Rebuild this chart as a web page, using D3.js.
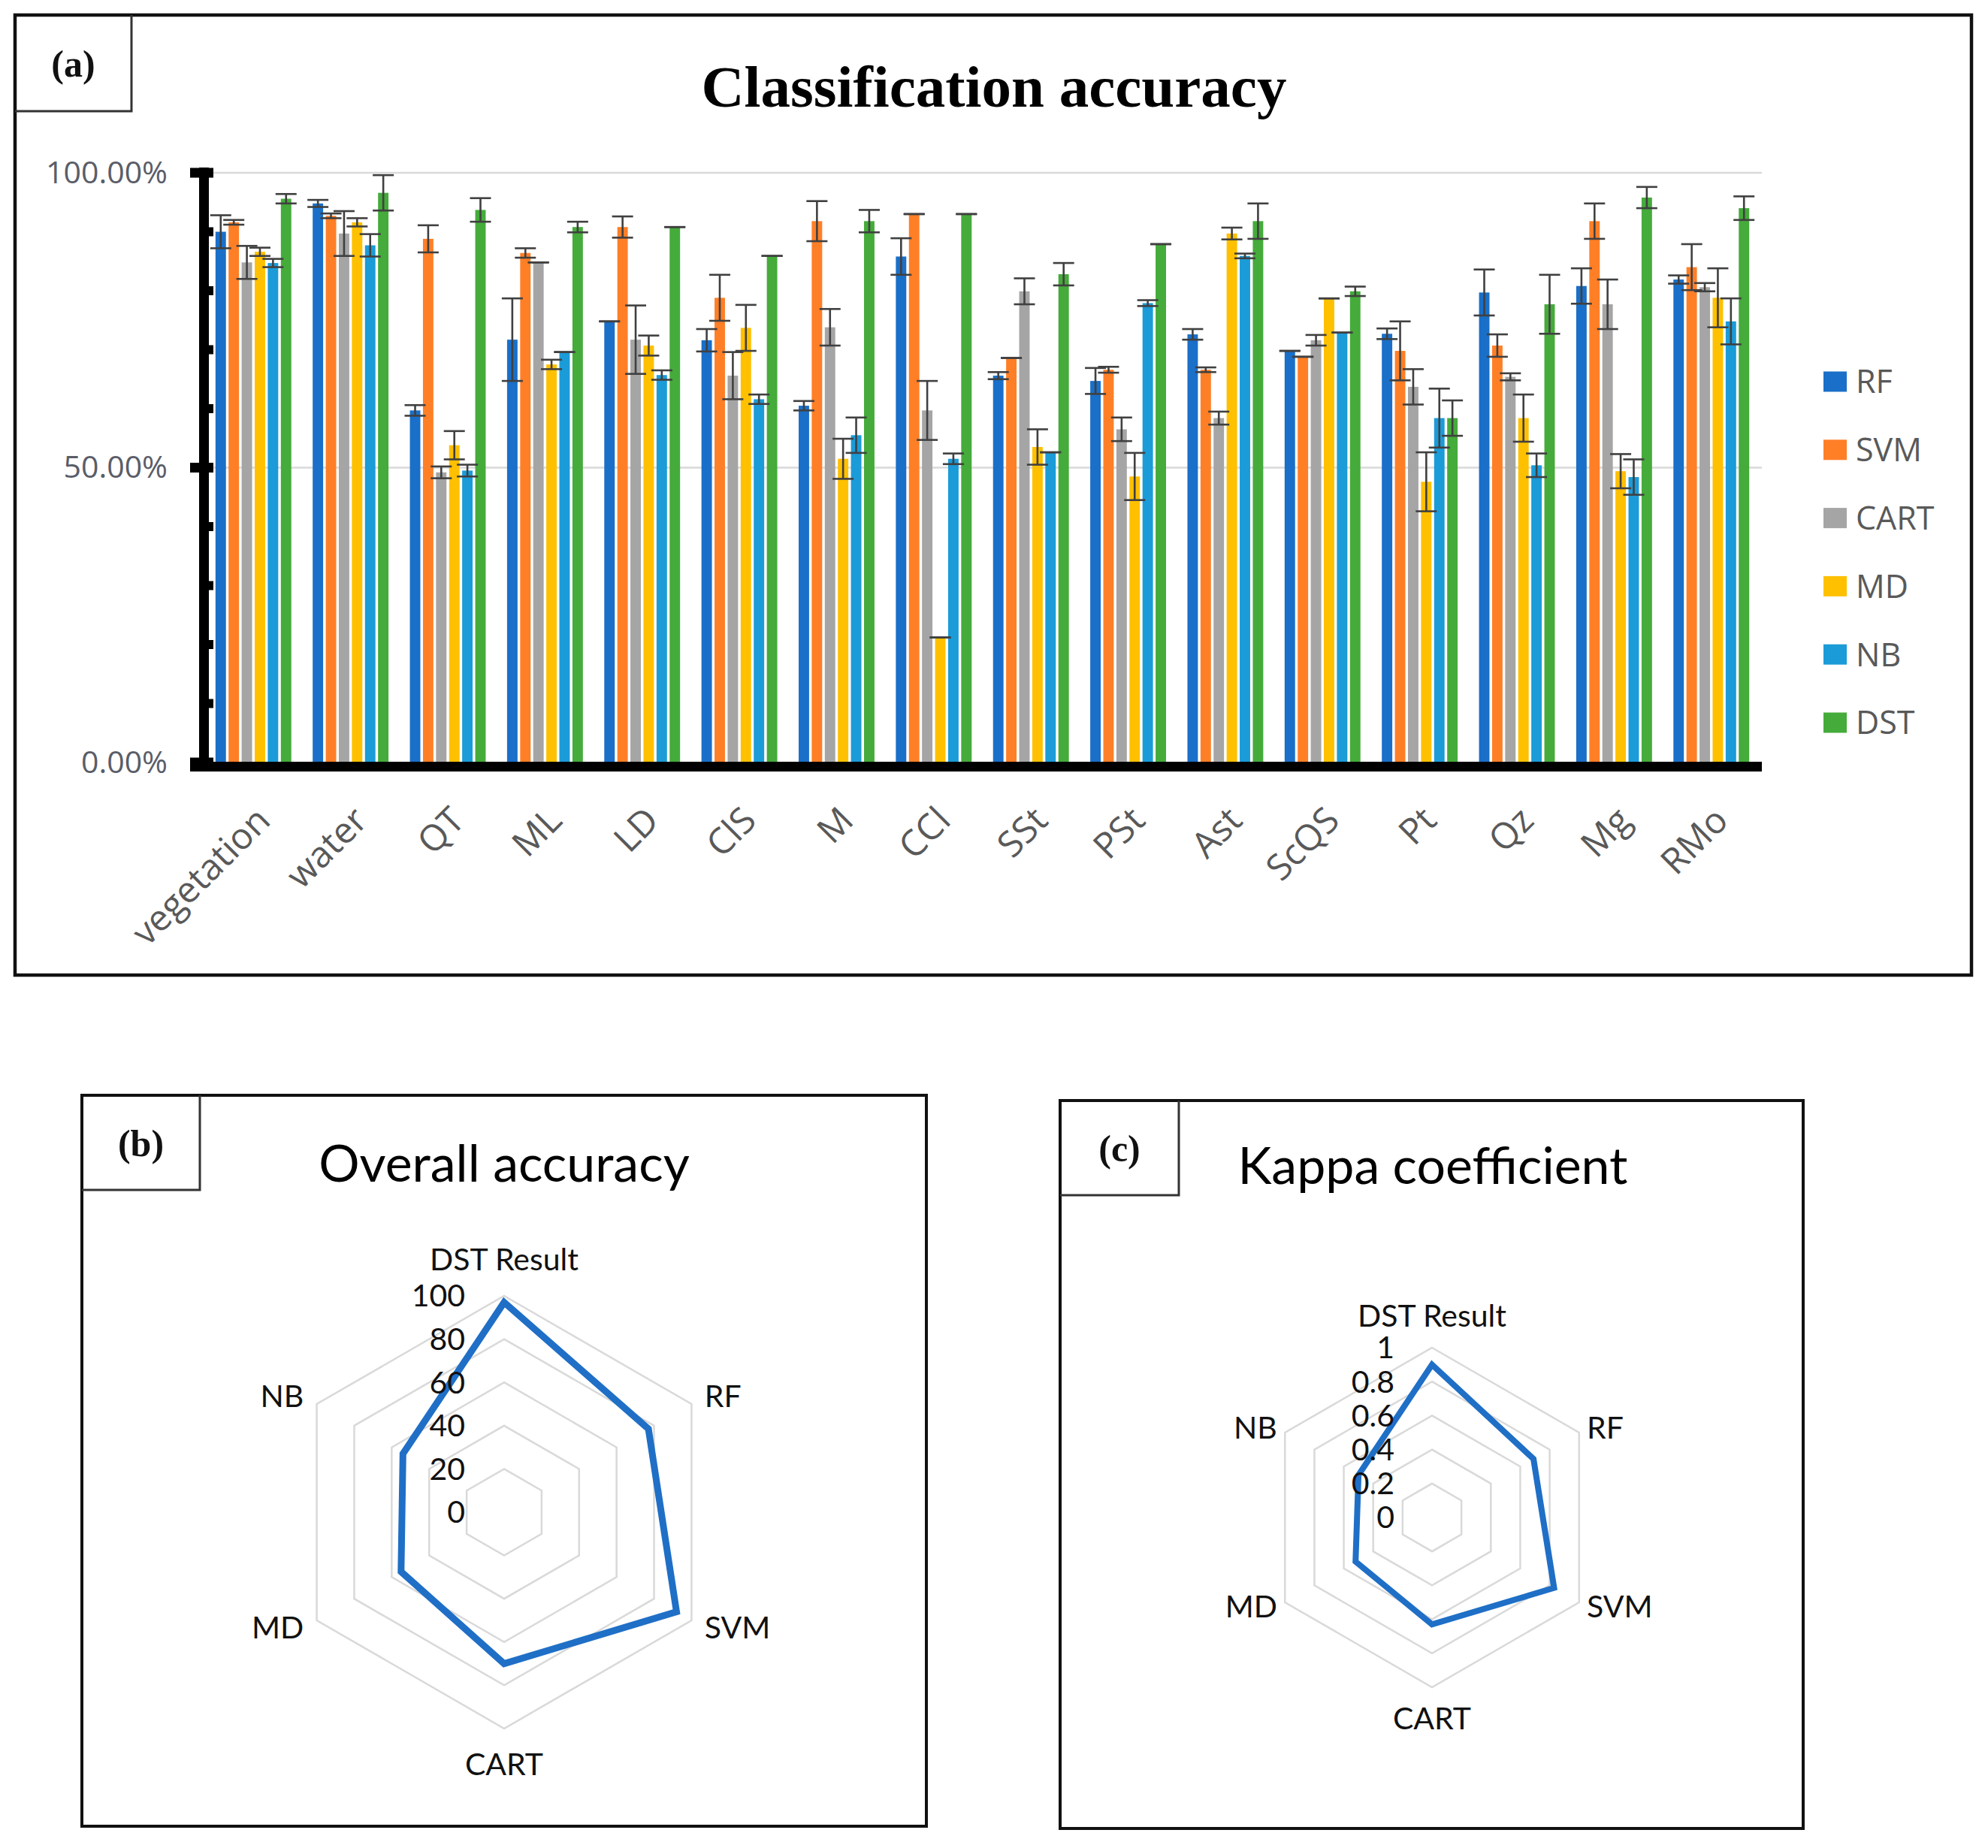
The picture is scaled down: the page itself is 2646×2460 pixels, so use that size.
<!DOCTYPE html>
<html>
<head>
<meta charset="utf-8">
<script src="https://cdn.jsdelivr.net/npm/d3@7"></script>
<style>
  body { margin: 0; background: #fff; }
  svg { display: block; }
</style>
</head>
<body>
<script>
// ---- data ----
const categories = ["vegetation", "water", "QT", "ML", "LD", "ClS", "M", "CCl", "SSt", "PSt", "Ast", "ScQS", "Pt", "Qz", "Mg", "RMo"];
const seriesNames = ["RF", "SVM", "CART", "MD", "NB", "DST"];
const seriesColors = ["#1a6fc8", "#ff7f27", "#a5a5a5", "#ffc000", "#1b9bd8", "#45ab3b"];

const rfAcc   = [90.0, 94.8, 59.7, 71.7, 74.8, 71.6, 60.5, 85.8, 65.6, 64.7, 72.6, 69.8, 72.7, 79.7, 80.8, 81.9];
const svmAcc  = [91.6, 92.7, 88.8, 86.4, 90.8, 78.8, 91.8, 93.0, 68.6, 66.6, 66.6, 68.8, 69.8, 70.7, 91.8, 84.0];
const cartAcc = [84.8, 89.7, 49.2, 84.8, 71.7, 65.6, 73.8, 59.7, 79.9, 56.5, 58.4, 71.6, 63.7, 65.4, 77.7, 80.6];
const mdAcc   = [86.6, 91.6, 53.8, 67.5, 70.7, 73.7, 51.5, 21.2, 53.5, 48.5, 89.7, 78.7, 47.6, 58.4, 49.4, 78.8];
const nbAcc   = [84.7, 87.7, 49.5, 69.6, 65.7, 61.6, 55.5, 51.5, 52.6, 77.9, 85.9, 72.9, 58.4, 50.4, 48.4, 74.8];
const dstAcc  = [95.6, 96.6, 93.7, 90.8, 90.8, 85.9, 91.8, 93.0, 82.8, 87.9, 91.8, 79.9, 58.4, 77.7, 95.8, 94.0];

// +/- error of each bar
const rfErr   = [2.8, 0.6, 0.9, 7.0, 0.0, 1.9, 0.8, 3.1, 0.6, 2.2, 0.9, 0.0, 0.9, 3.9, 3.0, 0.7];
const svmErr  = [0.4, 0.4, 2.3, 0.8, 1.8, 3.9, 3.4, 0.0, 0.0, 0.5, 0.4, 0.0, 5.0, 1.9, 3.0, 3.9];
const cartErr = [2.8, 3.8, 1.0, 0.0, 5.8, 4.0, 3.1, 5.0, 2.2, 2.0, 1.1, 0.9, 3.0, 0.6, 4.2, 0.7];
const mdErr   = [0.7, 0.7, 2.4, 0.8, 1.7, 3.9, 3.4, 0.0, 3.0, 4.0, 1.0, 0.0, 5.0, 4.0, 2.9, 5.0];
const nbErr   = [0.7, 1.9, 1.0, 0.0, 0.8, 0.8, 3.0, 0.9, 0.0, 0.5, 0.4, 0.0, 5.0, 2.0, 3.0, 3.9];
const dstErr  = [0.8, 3.0, 2.0, 0.9, 0.0, 0.0, 1.9, 0.0, 1.9, 0.0, 3.0, 0.8, 3.0, 5.0, 1.8, 2.0];

const yTickValues = [0, 0.5, 1];

const radarAxes = ["DST Result", "RF", "SVM", "CART", "MD", "NB"];
const oaValues = [97, 77, 92, 70, 55, 54];
const oaTicks = [0, 20, 40, 60, 80, 100];
const kappaValues = [0.90, 0.69, 0.83, 0.63, 0.52, 0.50];
const kappaTicks = [0, 0.2, 0.4, 0.6, 0.8, 1];

const accSeries = [rfAcc, svmAcc, cartAcc, mdAcc, nbAcc, dstAcc];
const errSeries = [rfErr, svmErr, cartErr, mdErr, nbErr, dstErr];

// ---- page ----
const W = 2646, H = 2460;
const svg = d3.select("body").append("svg").attr("width", W).attr("height", H);
svg.append("rect").attr("width", W).attr("height", H).attr("fill", "#fff");

const serif = "'Liberation Serif', 'Times New Roman', serif";
const sans = "'Open Sans', sans-serif";
const calib = "Lato, 'Open Sans', sans-serif";

function panelFrame(x0, y0, x1, y1, lx, ly, label, sw) {
    svg.append("rect")
        .attr("x", x0).attr("y", y0)
        .attr("width", x1 - x0).attr("height", y1 - y0)
        .attr("fill", "none").attr("stroke", "#111").attr("stroke-width", sw);
    svg.append("path")
        .attr("d", `M${x0},${ly} H${lx} V${y0}`)
        .attr("fill", "none").attr("stroke", "#333").attr("stroke-width", 3);
    svg.append("text")
        .attr("x", (x0 + lx) / 2).attr("y", (y0 + ly) / 2 + 18)
        .attr("text-anchor", "middle")
        .attr("font-family", serif).attr("font-weight", "bold").attr("font-size", 50)
        .attr("fill", "#111")
        .text(label);
}

// ================= (a) bar chart =================
panelFrame(20, 20, 2624, 1298, 175, 148, "(a)", 4.5);

svg.append("text")
    .attr("x", 1323).attr("y", 142)
    .attr("text-anchor", "middle")
    .attr("font-family", serif).attr("font-weight", "bold").attr("font-size", 79)
    .attr("fill", "#000")
    .text("Classification accuracy");

const plotLeft = 270, plotRight = 2345;
const x0 = d3.scaleBand().domain(categories).range([plotLeft, plotRight])
    .paddingInner(0.22).paddingOuter(0.13);
const x1 = d3.scaleBand().domain(seriesNames).range([0, x0.bandwidth()]).paddingInner(0.2);
const y = d3.scaleLinear().domain([0, 1]).range([1015, 230]);

const chart = svg.append("g").attr("class", "barchart");

// gridlines
chart.append("g").selectAll("line")
    .data([0.5, 1])
    .join("line")
    .attr("x1", 284).attr("x2", plotRight)
    .attr("y1", d => y(d)).attr("y2", d => y(d))
    .attr("stroke", "#d9d9d9").attr("stroke-width", 2.5);

// bars
const rows = [];
categories.forEach((c, i) => {
    seriesNames.forEach((s, j) => {
        rows.push({ cat: c, series: s, color: seriesColors[j], v: accSeries[j][i] / 100, e: errSeries[j][i] / 100 });
    });
});

chart.append("g").selectAll("rect")
    .data(rows)
    .join("rect")
    .attr("x", d => x0(d.cat) + x1(d.series))
    .attr("y", d => y(d.v))
    .attr("width", x1.bandwidth())
    .attr("height", d => y(0) - y(d.v))
    .attr("fill", d => d.color);

// error bars
const eg = chart.append("g").attr("stroke", "#404040").attr("stroke-width", 2.6);
const cx = d => x0(d.cat) + x1(d.series) + x1.bandwidth() / 2;
eg.selectAll(".ev").data(rows).join("line").attr("class", "ev")
    .attr("x1", cx).attr("x2", cx)
    .attr("y1", d => y(d.v + d.e)).attr("y2", d => y(d.v - d.e));
eg.selectAll(".ct").data(rows).join("line").attr("class", "ct")
    .attr("x1", d => cx(d) - 14).attr("x2", d => cx(d) + 14)
    .attr("y1", d => y(d.v + d.e)).attr("y2", d => y(d.v + d.e));
eg.selectAll(".cb").data(rows).join("line").attr("class", "cb")
    .attr("x1", d => cx(d) - 14).attr("x2", d => cx(d) + 14)
    .attr("y1", d => y(d.v - d.e)).attr("y2", d => y(d.v - d.e));

// thick axes
chart.append("rect").attr("x", 253).attr("y", y(0) - 1)
    .attr("width", plotRight - 253).attr("height", 13).attr("fill", "#000");
chart.append("rect").attr("x", 265).attr("y", y(1) - 7)
    .attr("width", 13).attr("height", y(0) - y(1) + 19).attr("fill", "#000");
// major ticks
chart.append("g").selectAll("rect")
    .data(yTickValues)
    .join("rect")
    .attr("x", 253).attr("y", d => y(d) - 6.5)
    .attr("width", 31).attr("height", 13).attr("fill", "#000");
// minor ticks
chart.append("g").selectAll("rect")
    .data(d3.range(1, 10).filter(k => k !== 5).map(k => k / 10))
    .join("rect")
    .attr("x", 277).attr("y", d => y(d) - 6)
    .attr("width", 7).attr("height", 12).attr("fill", "#000");

// y tick labels
const yAxis = d3.axisLeft(y).tickValues(yTickValues).tickFormat(d3.format(".2%")).tickSize(0).tickPadding(0);
const yg = chart.append("g").attr("transform", "translate(223,0)").call(yAxis);
yg.select(".domain").remove();
yg.selectAll("text")
    .attr("font-family", sans).attr("font-size", 41).attr("fill", "#5a5d68");

// x labels
chart.append("g").selectAll("text")
    .data(categories)
    .join("text")
    .attr("transform", d => `translate(${x0(d) + x0.bandwidth() / 2 + 25},1095) rotate(-45)`)
    .attr("text-anchor", "end")
    .attr("font-family", sans).attr("font-size", 48).attr("fill", "#595959")
    .text(d => d);

// legend
const legend = chart.append("g").selectAll("g")
    .data(seriesNames)
    .join("g")
    .attr("transform", (d, i) => `translate(2427,${508 + i * 90.8})`);
legend.append("rect")
    .attr("x", 0).attr("y", -13.5).attr("width", 31).attr("height", 27)
    .attr("fill", (d, i) => seriesColors[i]);
legend.append("text")
    .attr("x", 43).attr("y", 0).attr("dy", "0.36em")
    .attr("font-family", sans).attr("font-size", 43).attr("fill", "#595959")
    .text(d => d);

// ================= radar charts =================
function drawRadar(cfg) {
    const g = svg.append("g");
    const r = d3.scaleLinear().domain([0, cfg.max]).range([0, cfg.R]);
    const n = radarAxes.length;
    const ang = i => i * 2 * Math.PI / n;

    // rings
    cfg.ticks.filter(t => t > 0).forEach(t => {
        g.append("path")
            .attr("transform", `translate(${cfg.cx},${cfg.cy})`)
            .attr("d", d3.lineRadial().angle((d, i) => ang(i)).radius(() => r(t)).curve(d3.curveLinearClosed)(radarAxes))
            .attr("fill", "none").attr("stroke", "#d9d9d9").attr("stroke-width", 2.5);
    });

    // data polygon
    g.append("path")
        .attr("transform", `translate(${cfg.cx},${cfg.cy})`)
        .attr("d", d3.lineRadial().angle((d, i) => ang(i)).radius(d => r(d)).curve(d3.curveLinearClosed)(cfg.values))
        .attr("fill", "none").attr("stroke", "#1f6fc6").attr("stroke-width", cfg.lw)
        .attr("stroke-linejoin", "miter");

    // tick labels
    g.selectAll(".tick").data(cfg.ticks).join("text").attr("class", "tick")
        .attr("x", cfg.cx - cfg.tickDx)
        .attr("y", d => cfg.cy - r(d))
        .attr("dy", "0.35em")
        .attr("text-anchor", "end")
        .attr("font-family", calib).attr("font-size", 41).attr("fill", "#111")
        .text(d => cfg.fmt(d));

    // axis labels
    g.selectAll(".ax").data(radarAxes).join("text").attr("class", "ax")
        .each(function (d, i) {
            const a = ang(i);
            const sx = Math.sin(a), sy = -Math.cos(a);
            const vx = cfg.cx + cfg.R * sx, vy = cfg.cy + cfg.R * sy;
            const t = d3.select(this);
            if (i === 0 || i === 3) {
                t.attr("x", vx).attr("y", vy + sy * cfg.gapTB).attr("text-anchor", "middle");
            } else {
                t.attr("x", vx + sx * cfg.gapSide).attr("y", vy + sy * cfg.gapSide)
                    .attr("text-anchor", sx > 0 ? "start" : "end");
            }
        })
        .attr("dy", "0.35em")
        .attr("font-family", calib).attr("font-size", 41).attr("fill", "#111")
        .text(d => d);
}

// (b) overall accuracy
panelFrame(109, 1458, 1233, 2431, 266, 1584, "(b)", 4);
svg.append("text")
    .attr("x", 671).attr("y", 1573).attr("text-anchor", "middle")
    .attr("font-family", calib).attr("font-size", 68).attr("fill", "#000")
    .text("Overall accuracy");
drawRadar({ cx: 671, cy: 2013, R: 288, max: 100, ticks: oaTicks, values: oaValues,
    fmt: d => d, tickDx: 52, gapTB: 48, gapSide: 20, lw: 9 });

// (c) kappa coefficient
panelFrame(1411, 1465, 2400, 2434, 1569, 1591, "(c)", 4);
svg.append("text")
    .attr("x", 1907).attr("y", 1576).attr("text-anchor", "middle")
    .attr("font-family", calib).attr("font-size", 68).attr("fill", "#000")
    .text("Kappa coefficient");
drawRadar({ cx: 1906, cy: 2020, R: 226, max: 1, ticks: kappaTicks, values: kappaValues,
    fmt: d => d, tickDx: 50, gapTB: 42, gapSide: 12, lw: 8 });
</script>
</body>
</html>
